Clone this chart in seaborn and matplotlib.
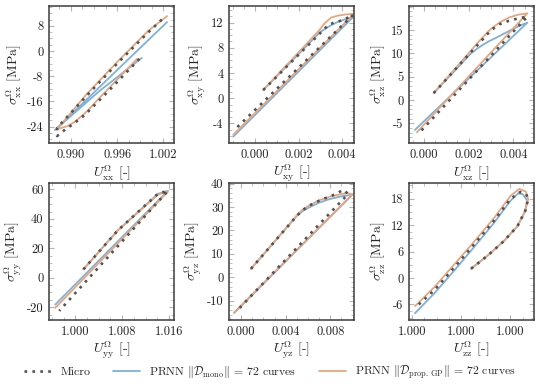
import numpy as np
import pandas as pd
import matplotlib
matplotlib.use("Agg")
import matplotlib.pyplot as plt
from matplotlib.ticker import AutoMinorLocator
import seaborn as sns

# ---- data (stretch U vs stress sigma) ----
# xx component
xx_micro_u = [0.9989, 0.9950, 0.9918, 0.9901, 0.9890, 0.9882, 0.9882, 0.9920, 0.9960, 1.0000, 1.0023]
xx_micro_s = [-2.5, -12.4, -20.3, -23.5, -25.4, -27.0, -24.4, -14.3, -4.0, 5.8, 11.1]
xx_mono_u = [0.9992, 0.9937, 0.9879, 0.9920, 0.9970, 1.0025]
xx_mono_s = [-2.2, -12.7, -25.1, -15.5, -3.7, 9.2]
xx_prop_u = [0.9986, 0.9937, 0.9921, 0.9906, 0.9896, 0.9882, 0.9920, 0.9960, 1.0000, 1.0025]
xx_prop_s = [-2.5, -14.9, -19.1, -22.3, -23.8, -24.8, -13.8, -3.5, 6.3, 11.1]

# xy component
xy_micro_u = [0.00037, 0.00313, 0.00336, 0.00359, 0.00405, 0.00450, -0.00092]
xy_micro_s = [1.3, 10.8, 11.6, 11.95, 12.4, 13.2, -4.9]
xy_mono_u = [0.00037, 0.00299, 0.00340, 0.00380, 0.00420, 0.00451, -0.00101]
xy_mono_s = [1.3, 10.5, 11.4, 12.1, 12.6, 12.9, -6.1]
xy_prop_u = [0.00037, 0.00290, 0.00320, 0.00350, 0.00380, 0.00420, 0.00455, -0.00101]
xy_prop_s = [1.3, 10.6, 11.9, 12.8, 13.1, 13.3, 13.4, -5.8]

# xz component
xz_micro_u = [0.00044, 0.00300, 0.00340, 0.00380, 0.00420, 0.00462, -0.00022]
xz_micro_s = [1.5, 15.0, 16.3, 17.0, 17.5, 17.9, -7.1]
xz_mono_u = [0.00044, 0.00150, 0.00190, 0.00215, 0.00240, 0.00265, 0.00290, 0.00320, 0.00360,
             0.00400, 0.00440, 0.00462, -0.00040]
xz_mono_s = [1.5, 6.9, 9.0, 10.2, 11.1, 11.9, 12.6, 13.3, 14.3, 15.3, 16.2, 16.6, -6.4]
xz_prop_u = [0.00044, 0.00250, 0.00300, 0.00340, 0.00380, 0.00420, 0.00462, -0.00031]
xz_prop_s = [1.5, 12.8, 15.3, 16.7, 17.7, 18.3, 18.6, -6.9]

# yy component
yy_micro_u = [1.00138, 1.0072, 1.0141, 1.0158, 0.99725]
yy_micro_s = [5.7, 32.0, 57.1, 59.1, -22.5]
yy_mono_u = [1.00138, 1.0072, 1.0141, 1.0158, 0.99656]
yy_mono_s = [5.7, 32.0, 57.1, 59.1, -18.3]
yy_prop_u = [1.00138, 1.0072, 1.0141, 1.0158, 0.99656]
yy_prop_s = [5.7, 32.0, 56.5, 58.5, -20.5]

# yz component
yz_micro_u = [0.00089, 0.00450, 0.00500, 0.00550, 0.00600, 0.00650, 0.00700, 0.00750, 0.00800,
              0.00850, 0.00916, 0.00960, -0.00044]
yz_micro_s = [3.6, 23.5, 26.3, 28.6, 30.3, 31.6, 32.7, 33.7, 34.6, 35.6, 37.4, 35.6, -14.7]
yz_mono_u = [0.00089, 0.00450, 0.00500, 0.00550, 0.00600, 0.00700, 0.00800, 0.00900, 0.00960,
             0.00996, -0.00062]
yz_mono_s = [3.6, 23.5, 26.2, 28.2, 29.6, 31.9, 33.5, 34.6, 35.0, 35.2, -15.3]
yz_prop_u = [0.00089, 0.00450, 0.00500, 0.00550, 0.00600, 0.00700, 0.00800, 0.00900, 0.00960,
             0.00996, -0.00062]
yz_prop_s = [3.6, 23.6, 26.5, 28.8, 30.4, 32.9, 34.5, 35.6, 35.9, 35.4, -15.0]

# zz component
zz_micro_u = [1.00024, 1.000308, 1.000372, 1.000428, 1.00046, 1.000472, 1.000464, 1.00044,
              1.0004, 1.000332, 1.000252, 1.000172, 1.000092, 1.000012]
zz_micro_s = [2.1, 5.1, 8.3, 11.7, 15.2, 17.9, 19.0, 19.5, 17.9, 12.9, 7.6, 2.4, -2.7, -6.8]
zz_mono_u = [1.00024, 1.000308, 1.000372, 1.000428, 1.00046, 1.000468, 1.00045, 1.000432,
             1.0004, 1.000332, 1.000252, 1.000172, 1.000092, 1.000012]
zz_mono_s = [2.1, 5.1, 8.3, 11.7, 15.2, 17.6, 19.0, 19.2, 17.5, 12.4, 7.0, 1.7, -3.4, -8.0]
zz_prop_u = [1.00024, 1.000308, 1.000372, 1.000428, 1.00046, 1.000472, 1.000462, 1.000436,
             1.0004, 1.000332, 1.000252, 1.000172, 1.000092, 1.000012]
zz_prop_s = [2.1, 5.1, 8.3, 11.7, 15.2, 17.9, 19.6, 20.2, 18.6, 13.5, 8.2, 3.1, -2.0, -6.4]

components = ['xx', 'xy', 'xz', 'yy', 'yz', 'zz']

# tick values and labels
xticks = {'xx': [0.990, 0.996, 1.002], 'xy': [0.0, 0.002, 0.004], 'xz': [0.0, 0.002, 0.004],
          'yy': [1.000, 1.008, 1.016], 'yz': [0.0, 0.004, 0.008], 'zz': [1.0, 1.0002, 1.0004]}
xticklabels = {'xx': ['0.990', '0.996', '1.002'], 'xy': ['0.000', '0.002', '0.004'],
               'xz': ['0.000', '0.002', '0.004'], 'yy': ['1.000', '1.008', '1.016'],
               'yz': ['0.000', '0.004', '0.008'], 'zz': ['1.000', '1.000', '1.000']}
yticks = {'xx': [8, 0, -8, -16, -24], 'xy': [12, 8, 4, 0, -4], 'xz': [15, 10, 5, 0, -5],
          'yy': [60, 40, 20, 0, -20], 'yz': [40, 30, 20, 10, 0, -10], 'zz': [18, 12, 6, 0, -6]}

# axis ranges
xlims = {'xx': (0.98716, 1.00342), 'xy': (-0.0012, 0.00455), 'xz': (-0.00066, 0.00492),
         'yy': (0.99553, 1.01686), 'yz': (-0.00107, 0.01013), 'zz': (0.999988, 1.000496)}
ylims = {'xx': (-29.2, 14.35), 'xy': (-7.1, 14.65), 'xz': (-9.2, 20.2),
         'yy': (-28.6, 64.6), 'yz': (-18.2, 40.4), 'zz': (-9.5, 21.6)}

data = {}
for c in components:
    data[c] = {'micro': (globals()[c + '_micro_u'], globals()[c + '_micro_s']),
               'mono': (globals()[c + '_mono_u'], globals()[c + '_mono_s']),
               'prop': (globals()[c + '_prop_u'], globals()[c + '_prop_s'])}

# ---- style ----
sns.set_theme(style='ticks')
plt.rcParams['font.family'] = 'serif'
plt.rcParams['font.serif'] = ['cmr10', 'DejaVu Serif']
plt.rcParams['mathtext.fontset'] = 'cm'
plt.rcParams['axes.unicode_minus'] = False
plt.rcParams['axes.formatter.use_mathtext'] = True

c_micro = '#525252'
c_mono = '#7db1db'
c_prop = '#e8a67e'

fig, axes = plt.subplots(2, 3, figsize=(5.4, 3.91), dpi=100)
fig.subplots_adjust(left=0.091, right=0.989, top=0.985, bottom=0.182, wspace=0.44, hspace=0.29)

for ax, c in zip(axes.flat, components):
    u, s = data[c]['mono']
    sns.lineplot(x=u, y=s, ax=ax, sort=False, estimator=None, color=c_mono, lw=1.3,
                 label=r'PRNN $\Vert\mathcal{D}_{\mathrm{mono}}\Vert$ = 72 curves', zorder=2)
    u, s = data[c]['prop']
    sns.lineplot(x=u, y=s, ax=ax, sort=False, estimator=None, color=c_prop, lw=1.3,
                 label=r'PRNN $\Vert\mathcal{D}_{\mathrm{prop.\,GP}}\Vert$ = 72 curves', zorder=2)
    u, s = data[c]['micro']
    sns.lineplot(x=u, y=s, ax=ax, sort=False, estimator=None, color=c_micro, lw=1.9,
                 linestyle=(0, (1, 2.0)), label='Micro', zorder=3)
    if ax.get_legend() is not None:
        ax.get_legend().remove()

    ax.set_xlim(*xlims[c])
    ax.set_ylim(*ylims[c])
    ax.set_xticks(xticks[c])
    ax.set_xticklabels(xticklabels[c])
    ax.set_yticks(yticks[c])
    ax.set_yticklabels([str(v) for v in yticks[c]])
    ax.xaxis.set_minor_locator(AutoMinorLocator())
    ax.yaxis.set_minor_locator(AutoMinorLocator())
    ax.tick_params(which='both', direction='in', top=True, right=True, color='#b5b5b5',
                   labelsize=9, labelcolor='#222222', pad=4)
    ax.tick_params(which='major', length=3.5, width=0.8)
    ax.tick_params(which='minor', length=2, width=0.6)
    for sp in ax.spines.values():
        sp.set_color('#3c3c3c')
        sp.set_linewidth(1.1)
    ax.set_xlabel(r'$U^{\Omega}_{\mathrm{%s}}$ [-]' % c, fontsize=10, labelpad=2)
    ax.set_ylabel(r'$\sigma^{\Omega}_{\mathrm{%s}}$ [MPa]' % c, fontsize=10, labelpad=2)

handles, labels = axes.flat[0].get_legend_handles_labels()
order = [2, 0, 1]
fig.legend([handles[i] for i in order], [labels[i] for i in order], loc='center',
           bbox_to_anchor=(0.5, 0.049), ncol=3, frameon=False, fontsize=8.5,
           handlelength=2.3, handletextpad=0.8, columnspacing=1.9)

fig.savefig('out.png', dpi=100)
